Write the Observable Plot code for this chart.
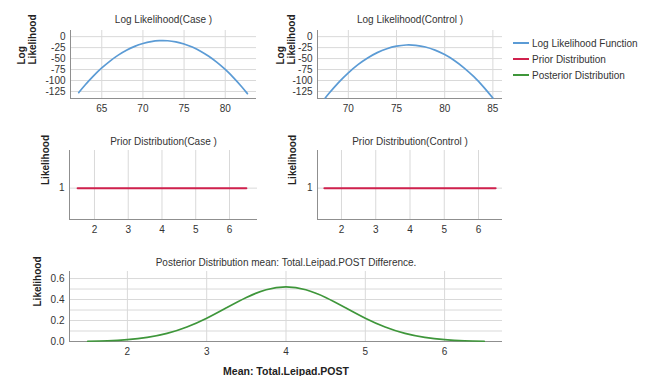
<!DOCTYPE html>
<html>
<head>
<meta charset="utf-8">
<script src="https://cdn.jsdelivr.net/npm/d3@7"></script>
<script src="https://cdn.jsdelivr.net/npm/@observablehq/plot@0.6"></script>
<style>
  html, body { margin: 0; padding: 0; background: #fff; }
  #wrap { position: relative; width: 652px; height: 376px; background: #fff; font-family: "Liberation Sans", Arial, sans-serif; }
  #wrap svg { position: absolute; }
  .legend { position: absolute; left: 513px; top: 35px; font-size: 10px; color: #333; }
  .legend .row { height: 16px; display: flex; align-items: center; }
  .legend .sw { width: 16px; height: 0; border-top: 2px solid; margin-right: 3px; }
</style>
</head>
<body>
<div id="wrap"></div>
<script>
// ---- data ----
const caseX = [62.2, 63, 64, 65, 66, 67, 68, 69, 70, 71, 72, 73, 74, 75, 76, 77, 78, 79, 80, 81, 82, 82.7];
const caseLL = [-127.6, -109.7, -89.4, -71.4, -55.7, -42.2, -31.1, -22.2, -15.6, -11.2, -9.2, -9.4, -11.9, -16.7, -23.8, -33.1, -44.8, -58.7, -74.8, -93.3, -114.1, -130];
const controlX = [67.6, 68, 69, 70, 71, 72, 73, 74, 75, 76, 77, 78, 79, 80, 81, 82, 83, 84, 85];
const controlLL = [-140, -129.2, -104.3, -82.5, -63.9, -48.6, -36.4, -27.5, -21.7, -19.1, -19.8, -23.6, -30.7, -40.9, -54.3, -71, -90.8, -113.9, -140];
const priorX = [1.5, 6.5];
const priorY = [1, 1];
const postX = [1.5, 1.75, 2, 2.25, 2.5, 2.75, 3, 3.25, 3.5, 3.75, 4, 4.25, 4.5, 4.75, 5, 5.25, 5.5, 5.75, 6, 6.25, 6.5];
const postY = [0.0026, 0.0070, 0.0174, 0.0385, 0.0768, 0.138, 0.222, 0.322, 0.420, 0.493, 0.52, 0.493, 0.420, 0.322, 0.222, 0.138, 0.0768, 0.0385, 0.0174, 0.0070, 0.0026];

const llXTicksCase = [65, 70, 75, 80];
const llXTicksControl = [70, 75, 80, 85];
const llYTicks = [0, -25, -50, -75, -100, -125];
const priorXTicks = [2, 3, 4, 5, 6];
const priorYTicks = [1];
const postXTicks = [2, 3, 4, 5, 6];
const postYTicks = [0, 0.2, 0.4, 0.6];
const postYGrid = [0, 0.1, 0.2, 0.3, 0.4, 0.5, 0.6];

const titles = ["Log Likelihood(Case )", "Log Likelihood(Control )", "Prior Distribution(Case )", "Prior Distribution(Control )", "Posterior Distribution mean: Total.Leipad.POST Difference."];
const legendLabels = ["Log Likelihood Function", "Prior Distribution", "Posterior Distribution"];
const xLabel = "Mean: Total.Leipad.POST";

const BLUE = "#5b9bd5", RED = "#d0214d", GREEN = "#3e963a";
const GRID = "#d9d9d9", AXIS = "#8f8f8f";
const FONT = "'Liberation Sans', Arial, sans-serif";

const zip = (xs, ys) => xs.map((x, i) => ({x, y: ys[i]}));

function panel(o) {
  const marks = [
    Plot.gridX(o.xTicks, {stroke: GRID, strokeOpacity: 1}),
    Plot.gridY(o.yGrid, {stroke: GRID, strokeOpacity: 1}),
    Plot.ruleX([o.xDomain[0]], {stroke: AXIS}),
    Plot.ruleY([o.yDomain[0]], {stroke: AXIS}),
    Plot.axisX(o.xTicks, {tickSize: 0, tickPadding: 6, fontSize: 10, fill: "#333", label: null, tickFormat: d => String(d)}),
    Plot.axisY(o.yTicks, {tickSize: 0, tickPadding: 5, fontSize: 10, fill: "#333", label: null, tickFormat: o.yFormat || (d => String(d))}),
    Plot.line(o.data, {x: "x", y: "y", stroke: o.color, strokeWidth: o.sw || 1.7, curve: "natural"}),
    Plot.text([o.title], {text: d => d, frameAnchor: "top", dy: o.titleDy, fontSize: 10, fill: "#333", lineAnchor: "middle"})
  ];
  o.yLabels.forEach(([t, dx]) => {
    marks.push(Plot.text([t], {text: d => d, frameAnchor: "left", dx, rotate: -90, fontSize: 10, fontWeight: "bold", fill: "#222", lineAnchor: "middle"}));
  });
  if (o.xLabel) marks.push(Plot.text([o.xLabel], {text: d => d, frameAnchor: "bottom", dy: o.xLabelDy, fontSize: 10.5, fontWeight: "bold", fill: "#222", lineAnchor: "middle"}));
  const svg = Plot.plot({
    width: o.width, height: o.height,
    marginLeft: o.ml, marginRight: o.mr, marginTop: o.mt, marginBottom: o.mb,
    x: {domain: o.xDomain, axis: null, label: null},
    y: {domain: o.yDomain, axis: null, label: null},
    style: {fontFamily: FONT, fontSize: "10px", background: "transparent", overflow: "visible"},
    marks
  });
  svg.style.left = o.left + "px";
  svg.style.top = o.top + "px";
  document.getElementById("wrap").appendChild(svg);
}

panel({left: 0, top: 0, width: 262, height: 115, ml: 70, mr: 6, mt: 30, mb: 17,
  xDomain: [61.2, 83.8], yDomain: [-141, 14], xTicks: llXTicksCase, yTicks: llYTicks, yGrid: llYTicks,
  data: zip(caseX, caseLL), color: BLUE, title: titles[0], titleDy: -10.5,
  yLabels: [["Log", -48.5], ["Likelihood", -37.5]]});

panel({left: 262, top: 0, width: 246, height: 115, ml: 55, mr: 6, mt: 30, mb: 17,
  xDomain: [66.8, 86.0], yDomain: [-141, 14], xTicks: llXTicksControl, yTicks: llYTicks, yGrid: llYTicks,
  data: zip(controlX, controlLL), color: BLUE, title: titles[1], titleDy: -10.5,
  yLabels: [["Log", -37], ["Likelihood", -26]]});

panel({left: 0, top: 120, width: 262, height: 120, ml: 69, mr: 5, mt: 30, mb: 21,
  xDomain: [1.26, 6.83], yDomain: [0.5, 1.6], xTicks: priorXTicks, yTicks: priorYTicks, yGrid: priorYTicks,
  data: zip(priorX, priorY), color: RED, sw: 2, title: titles[2], titleDy: -8.5,
  yLabels: [["Likelihood", -24]]});

panel({left: 262, top: 120, width: 246, height: 120, ml: 55, mr: 6, mt: 30, mb: 21,
  xDomain: [1.30, 6.70], yDomain: [0.5, 1.6], xTicks: priorXTicks, yTicks: priorYTicks, yGrid: priorYTicks,
  data: zip(priorX, priorY), color: RED, sw: 2, title: titles[3], titleDy: -8.5,
  yLabels: [["Likelihood", -25]]});

panel({left: 0, top: 240, width: 508, height: 136, ml: 69, mr: 6, mt: 31, mb: 35,
  xDomain: [1.27, 6.73], yDomain: [0, 0.667], xTicks: postXTicks, yTicks: postYTicks, yGrid: postYGrid,
  yFormat: d3.format(".1f"),
  data: zip(postX, postY), color: GREEN, title: titles[4], titleDy: -8.5,
  yLabels: [["Likelihood", -31.5]], xLabel, xLabelDy: 30.5});

// legend
const lg = document.createElement("div");
lg.className = "legend";
[BLUE, RED, GREEN].forEach((c, i) => {
  const row = document.createElement("div");
  row.className = "row";
  const sw = document.createElement("span");
  sw.className = "sw";
  sw.style.borderTopColor = c;
  const tx = document.createElement("span");
  tx.textContent = legendLabels[i];
  row.appendChild(sw); row.appendChild(tx);
  lg.appendChild(row);
});
document.getElementById("wrap").appendChild(lg);
</script>
</body>
</html>
